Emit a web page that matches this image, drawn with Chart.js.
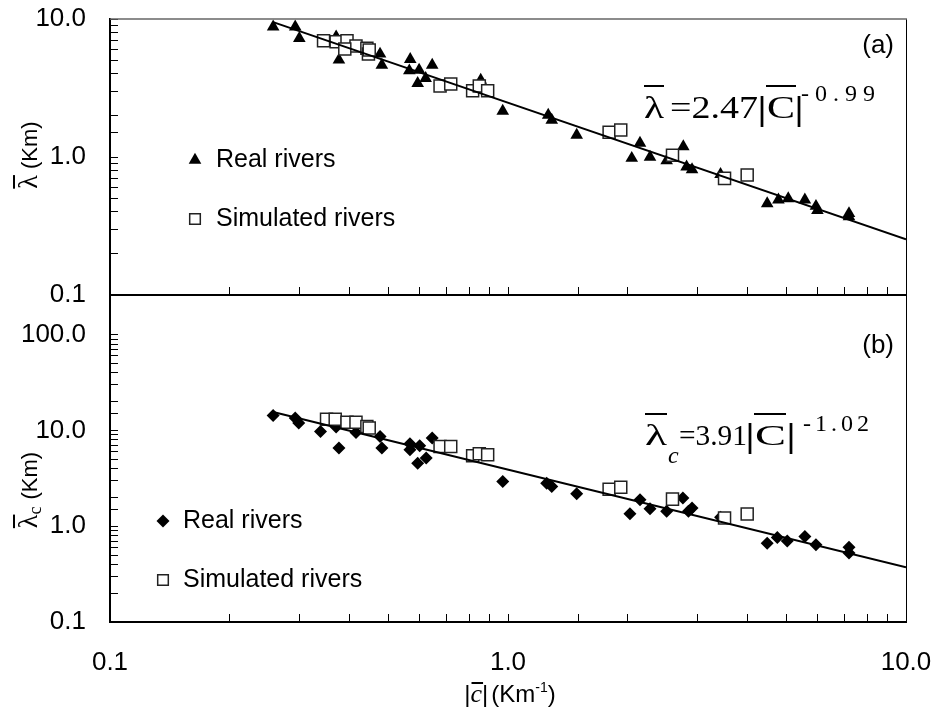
<!DOCTYPE html>
<html>
<head>
<meta charset="utf-8">
<script src="https://cdn.jsdelivr.net/npm/chart.js@4.4.0/dist/chart.umd.min.js"></script>
<style>
  html, body { margin: 0; padding: 0; background: #fff; }
  #wrap { position: relative; width: 937px; height: 711px; }
  #wrap canvas { position: absolute; left: 0; top: 0; }
</style>
</head>
<body>
<div id="wrap">
  <canvas id="chartB" width="937" height="711"></canvas>
  <canvas id="chartA" width="937" height="711"></canvas>
</div>
<script>
// panel (a): mean wavelength vs mean curvature
const realX_a = [0.257, 0.292, 0.299, 0.370, 0.376, 0.477, 0.482, 0.568, 0.565, 0.598, 0.645, 0.621, 0.593, 0.854, 0.970, 1.262, 1.288, 1.488, 2.146, 2.046, 2.274, 2.504, 2.757, 2.81, 2.90, 3.42, 4.48, 4.78, 5.06, 5.57, 5.94, 5.99, 7.19, 7.19];
const realY_a = [8.79, 8.79, 7.25, 7.44, 5.05, 5.58, 4.64, 5.11, 4.22, 4.27, 4.64, 3.72, 3.42, 3.61, 2.15, 2.01, 1.85, 1.44, 1.26, 0.98, 1.00, 0.94, 1.19, 0.85, 0.81, 0.75, 0.46, 0.49, 0.50, 0.49, 0.44, 0.41, 0.39, 0.37];
const simX_a = [0.344, 0.370, 0.394, 0.415, 0.389, 0.442, 0.446, 0.448, 0.675, 0.718, 0.815, 0.847, 0.889, 1.795, 1.92, 2.59, 3.50, 3.99];
const simY_a = [6.96, 6.85, 6.96, 6.37, 6.06, 6.13, 5.58, 5.96, 3.27, 3.38, 3.02, 3.27, 3.02, 1.51, 1.57, 1.03, 0.70, 0.74];

// panel (b): lambda_c vs mean curvature
const realX_b = [0.257, 0.292, 0.298, 0.338, 0.370, 0.376, 0.415, 0.477, 0.482, 0.567, 0.567, 0.600, 0.645, 0.623, 0.593, 0.970, 1.251, 1.288, 1.488, 2.146, 2.025, 2.274, 2.504, 2.75, 2.84, 2.90, 3.42, 4.48, 4.75, 5.03, 5.57, 5.94, 7.19, 7.19];
const realY_b = [14.3, 13.5, 11.95, 9.77, 10.85, 6.55, 9.53, 8.66, 6.55, 7.26, 6.29, 6.92, 8.33, 5.15, 4.56, 2.93, 2.82, 2.60, 2.18, 1.89, 1.35, 1.52, 1.43, 1.97, 1.43, 1.55, 1.24, 0.666, 0.762, 0.703, 0.780, 0.640, 0.605, 0.524];
const simX_b = [0.350, 0.368, 0.394, 0.415, 0.442, 0.448, 0.675, 0.718, 0.815, 0.847, 0.889, 1.795, 1.92, 2.59, 3.50, 3.99];
const simY_b = [13.1, 13.1, 12.2, 12.2, 11.0, 10.6, 6.8, 6.8, 5.44, 5.71, 5.57, 2.44, 2.56, 1.92, 1.22, 1.34];

// power-law fit lines (end points)
const fitX = [0.257, 10];
const fitY_a = [9.5, 0.253];
const fitY_b = [15.6, 0.373];

const xMin = 0.1, xMax = 10;

const SANS = "'Liberation Sans', Arial, sans-serif";
const SERIF = "'Liberation Serif', 'Times New Roman', serif";
Chart.defaults.font.family = SANS;
Chart.defaults.color = '#000';

const pts = (xs, ys) => xs.map((x, i) => ({ x: x, y: ys[i] }));

const decadeLabel = v => {
  const l = Math.log10(v);
  return Math.abs(l - Math.round(l)) < 1e-6 ? v.toFixed(1) : '';
};

// labels sit far from the inward ticks, but must not shrink the plot area
const noPad = s => { s.paddingLeft = 0; s.paddingRight = 0; s.paddingTop = 0; s.paddingBottom = 0; };

function drawSegs(ctx, segs) {
  ctx.fillStyle = '#000';
  ctx.textAlign = 'left';
  ctx.textBaseline = 'alphabetic';
  segs.forEach(s => {
    ctx.font = s.f;
    if (s.sp) {
      let x = s.x;
      for (const ch of s.t) { ctx.fillText(ch, x, s.y); x += ctx.measureText(ch).width + s.sp; }
    } else {
      const w = ctx.measureText(s.t).width;
      ctx.save();
      ctx.translate(s.x, s.y);
      ctx.scale(s.w ? s.w / w : 1, 1);
      ctx.fillText(s.t, 0, 0);
      ctx.restore();
    }
    if (s.bar) ctx.fillRect(s.bar[0], s.bar[1], s.bar[2] - s.bar[0], 2);
  });
}

// rotated y title: lambda (bar) [sub c] (Km)
function drawYTitle(ctx, cx, cy, sub) {
  ctx.save();
  ctx.translate(cx, cy);
  ctx.rotate(-Math.PI / 2);
  ctx.fillStyle = '#000';
  ctx.textBaseline = 'alphabetic';
  ctx.textAlign = 'left';
  const fL = '28px ' + SERIF, fS = '18px ' + SERIF, fK = '22px ' + SANS;
  ctx.font = fL; const wL = ctx.measureText('λ').width;
  ctx.font = fS; const wS = sub ? ctx.measureText(sub).width + 1 : 0;
  ctx.font = fK; const wK = ctx.measureText(' (Km)').width;
  let x = -(wL + wS + wK) / 2;
  ctx.font = fL; ctx.fillText('λ', x, 9);
  ctx.fillRect(x, -15, wL, 2);
  x += wL;
  if (sub) { ctx.font = fS; ctx.fillText(sub, x, 13); x += wS; }
  ctx.font = fK; ctx.fillText(' (Km)', x, 9);
  ctx.restore();
}

function drawXTitle(ctx, cx, y) {
  ctx.fillStyle = '#000';
  ctx.textBaseline = 'alphabetic';
  ctx.textAlign = 'left';
  const parts = [
    { t: '|', f: '24px ' + SANS, dy: 0 },
    { t: 'c', f: 'italic 26px ' + SERIF, dy: 0, bar: true },
    { t: '|', f: '24px ' + SANS, dy: 0, gap: 3 },
    { t: '(Km', f: '24px ' + SANS, dy: 0 },
    { t: '-1', f: '14px ' + SANS, dy: -10 },
    { t: ')', f: '24px ' + SANS, dy: 0 }
  ];
  let total = 0;
  parts.forEach(p => { ctx.font = p.f; p.w = ctx.measureText(p.t).width; total += p.w + (p.gap || 0); });
  let x = cx - total / 2;
  parts.forEach(p => {
    ctx.font = p.f;
    ctx.fillText(p.t, x, y + p.dy);
    if (p.bar) ctx.fillRect(x + 1, y - 20, p.w, 2);
    x += p.w + (p.gap || 0);
  });
}

function panel(id, o) {
  const extras = {
    id: 'extras',
    afterDraw(chart) {
      const ctx = chart.ctx, a = chart.chartArea;
      ctx.save();
      // frame
      ctx.strokeStyle = '#000';
      ctx.lineWidth = 1;
      ctx.beginPath();
      ctx.moveTo(a.right + 0.5, a.top);
      ctx.lineTo(a.right + 0.5, a.bottom);
      ctx.stroke();
      if (o.topBorder) {
        ctx.strokeStyle = '#666';
        ctx.lineWidth = 1.5;
        ctx.beginPath();
        ctx.moveTo(a.left, a.top);
        ctx.lineTo(a.right + 1, a.top);
        ctx.stroke();
      }
      // legend
      const ds = chart.data.datasets;
      o.legend.forEach(l => {
        const d = ds[l.ds];
        ctx.fillStyle = d.backgroundColor;
        ctx.strokeStyle = d.borderColor;
        ctx.lineWidth = d.borderWidth;
        Chart.helpers.drawPoint(ctx, { pointStyle: d.pointStyle, radius: l.r, borderWidth: d.borderWidth, rotation: 0 }, l.x, l.y);
        ctx.fillStyle = '#000';
        ctx.font = '25px ' + SANS;
        ctx.textAlign = 'left';
        ctx.textBaseline = 'middle';
        ctx.fillText(d.label, l.tx, l.y);
      });
      // panel letter
      ctx.font = '26px ' + SANS;
      ctx.textAlign = 'right';
      ctx.textBaseline = 'middle';
      ctx.fillText(o.letter, 894, o.letterY);
      // fit equation
      drawSegs(ctx, o.eq);
      // axis titles
      drawYTitle(ctx, 28, o.yTitleY, o.sub);
      if (o.xTitle) drawXTitle(ctx, 510, 702);
      ctx.restore();
    }
  };

  return new Chart(document.getElementById(id), {
    type: 'scatter',
    data: {
      datasets: [
        { label: 'fit', data: pts(fitX, o.fitY), showLine: true, borderColor: '#000', borderWidth: 2,
          pointRadius: 0, fill: false, tension: 0 },
        { label: 'Simulated rivers', data: pts(o.simX, o.simY), pointStyle: 'rect', pointRadius: 8.5,
          backgroundColor: '#fff', borderColor: '#222', borderWidth: 1.5 },
        { label: 'Real rivers', data: pts(o.realX, o.realY), pointStyle: o.realStyle, pointRadius: o.realR,
          backgroundColor: '#000', borderColor: '#000', borderWidth: 0 }
      ]
    },
    options: {
      responsive: false,
      animation: false,
      layout: { padding: o.padding },
      plugins: { legend: { display: false }, tooltip: { enabled: false } },
      scales: {
        x: {
          type: 'logarithmic', min: xMin, max: xMax, position: 'bottom',
          afterFit: s => { s.height = o.xHeight; noPad(s); },
          grid: { drawOnChartArea: false, drawTicks: true, tickLength: -8, color: '#000', lineWidth: 1 },
          border: { display: true, color: '#000', width: 2 },
          ticks: { display: o.xLabels, autoSkip: false, maxRotation: 0, padding: 33,
                   font: { size: 26 }, color: '#000', callback: decadeLabel }
        },
        y: {
          type: 'logarithmic', min: 0.1, max: o.yMax, position: 'left',
          afterFit: s => { s.width = 110; noPad(s); },
          afterBuildTicks: s => { s.ticks = s.ticks.filter(t => t.value <= 100.0001); },
          grid: { drawOnChartArea: false, drawTicks: true, tickLength: -8, color: '#000', lineWidth: 1 },
          border: { display: true, color: '#000', width: 2 },
          ticks: { autoSkip: false, padding: 32, font: { size: 26 }, color: '#000', callback: decadeLabel }
        }
      }
    },
    plugins: [extras]
  });
}

panel('chartA', {
  realX: realX_a, realY: realY_a, simX: simX_a, simY: simY_a, fitY: fitY_a,
  realStyle: 'triangle', realR: 7.3, yMax: 10,
  padding: { top: 19, right: 31, bottom: 416, left: 0 }, xHeight: 0, xLabels: false,
  topBorder: true, letter: '(a)', letterY: 46, sub: '', yTitleY: 155, xTitle: false,
  legend: [
    { ds: 2, r: 7.3, x: 195, y: 160, tx: 216 },
    { ds: 1, r: 7.5, x: 195, y: 219, tx: 216 }
  ],
  eq: [
    { t: 'λ', x: 644, y: 118, f: '32px ' + SERIF, w: 20, bar: [644, 85, 664] },
    { t: '=2.47', x: 670, y: 118, f: '32px ' + SERIF, w: 88 },
    { t: '|', x: 759, y: 120, f: 'bold 34px ' + SANS, w: 6 },
    { t: 'C', x: 767, y: 118, f: '32px ' + SERIF, w: 28, bar: [766, 85, 796] },
    { t: '|', x: 796, y: 120, f: 'bold 34px ' + SANS, w: 6 },
    { t: '-0.99', x: 801, y: 101, f: '24px ' + SERIF, sp: 6 }
  ]
});

panel('chartB', {
  realX: realX_b, realY: realY_b, simX: simX_b, simY: simY_b, fitY: fitY_b,
  realStyle: 'rectRot', realR: 6.5, yMax: 260,
  padding: { top: 295, right: 31, bottom: 0, left: 0 }, xHeight: 89, xLabels: true,
  topBorder: false, letter: '(b)', letterY: 346, sub: 'c', yTitleY: 490, xTitle: true,
  legend: [
    { ds: 2, r: 6.5, x: 163, y: 521, tx: 183 },
    { ds: 1, r: 7.5, x: 163, y: 580, tx: 183 }
  ],
  eq: [
    { t: 'λ', x: 645, y: 445, f: '30px ' + SERIF, w: 22, bar: [645, 413, 667] },
    { t: 'c', x: 668, y: 463, f: 'italic 24px ' + SERIF },
    { t: '=3.91', x: 679, y: 445, f: '30px ' + SERIF, w: 68 },
    { t: '|', x: 747, y: 447, f: 'bold 33px ' + SANS, w: 6 },
    { t: 'C', x: 755, y: 445, f: '30px ' + SERIF, w: 31, bar: [754, 413, 786] },
    { t: '|', x: 788, y: 447, f: 'bold 33px ' + SANS, w: 6 },
    { t: '-1.02', x: 803, y: 431, f: '24px ' + SERIF, sp: 4 }
  ]
});
</script>
</body>
</html>
